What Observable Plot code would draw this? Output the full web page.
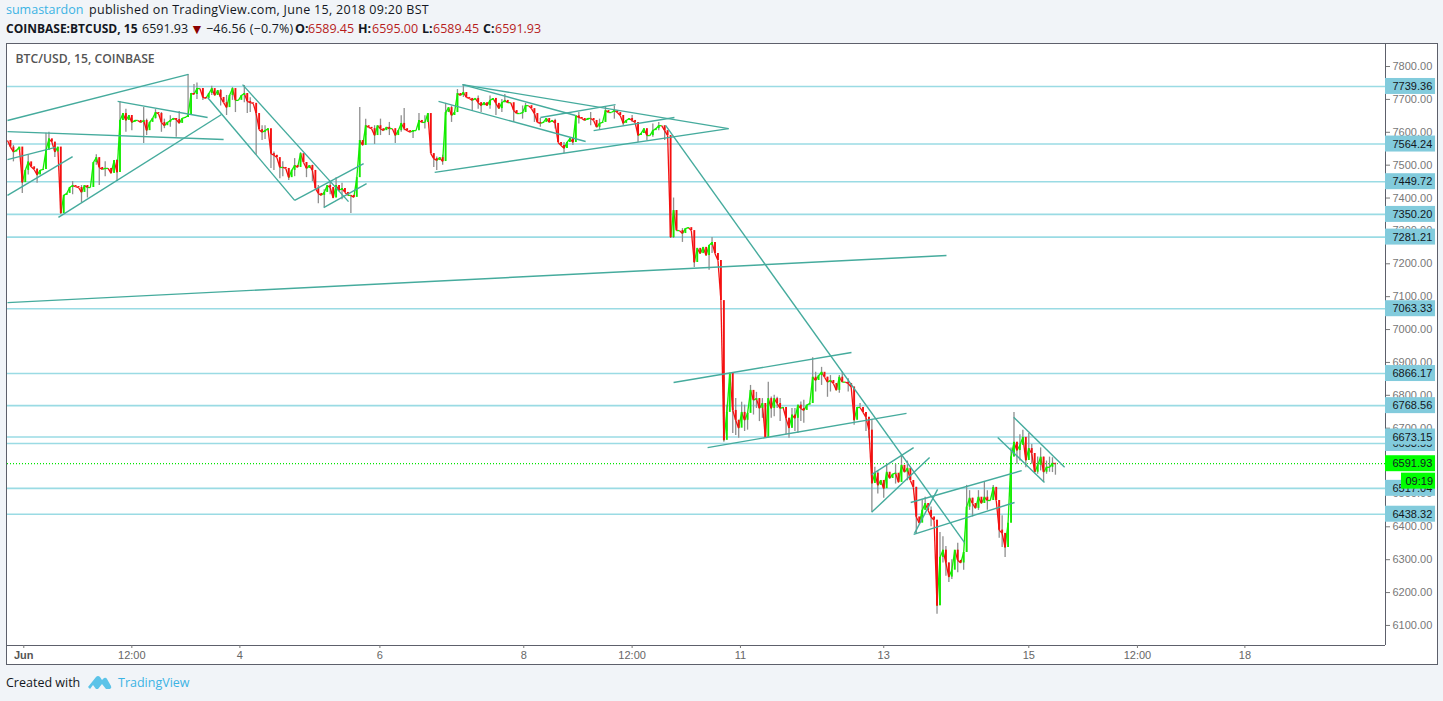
<!DOCTYPE html>
<html>
<head>
<meta charset="utf-8">
<script src="https://cdn.jsdelivr.net/npm/d3@7"></script>
<script src="https://cdn.jsdelivr.net/npm/@observablehq/plot@0.6"></script>
<style>
html,body{margin:0;padding:0;background:#f1f4f8;width:1443px;height:701px;overflow:hidden}
.h{position:absolute;left:6px;white-space:nowrap;font-family:"Open Sans",sans-serif;font-size:12.5px;color:#131722;line-height:18px}
#chart{position:absolute;left:6px;top:43px;width:1430px;height:620px;background:#fff;border:1px solid #5d606b}
#chart svg{display:block}
.r{color:#b71c1c}.b{font-weight:700}
</style>
</head>
<body>
<div class="h" style="top:1px;color:#3bb3e4">sumastardon</div>
<div class="h" style="top:1px;left:89px;letter-spacing:.3px">published on TradingView.com, June 15, 2018 09:20 BST</div>
<div class="h b" style="top:20px;font-size:12px">COINBASE:BTCUSD, 15</div>
<div class="h" style="top:20px;left:142px">6591.93</div>
<div class="h" style="top:20px;left:190px;color:#8b0000;font-size:14px">&#9660;</div>
<div class="h" style="top:20px;left:206px;letter-spacing:.2px">&#8722;46.56 (&#8722;0.7%)</div>
<div class="h b" style="top:20px;left:295px">O:</div><div class="h r" style="top:20px;left:308px">6589.45</div>
<div class="h b" style="top:20px;left:358px">H:</div><div class="h r" style="top:20px;left:372px">6595.00</div>
<div class="h b" style="top:20px;left:422px">L:</div><div class="h r" style="top:20px;left:433px">6589.45</div>
<div class="h b" style="top:20px;left:483px">C:</div><div class="h r" style="top:20px;left:495px">6591.93</div>
<div id="chart"></div>
<div class="h" style="top:674px">Created with</div>
<svg style="position:absolute;left:87px;top:674px" width="25" height="17" viewBox="0 0 25 17"><path d="M1 13 L9 3 Q11 1 13 3 L15 6 L17 4 Q19 3 20 5 L24 12 Q25 14 23 15 L19 15 L15 10 L11 15 L9 15 L6 11 L3 15 Z" fill="#5cc3e8"/></svg>
<div class="h" style="top:674px;left:118px;color:#3bb3e4">TradingView</div>
<script>
// Hourly closes (USD)
const closes = [
7575,7555,7540,7545,7555,7447,7484,7510,7495,7487,7470,7484,7487,7545,7580,7570,7540,7555,7353,7408,
7414,7432,7438,7435,7432,7417,7438,7432,7432,7508,7523,7493,7487,7490,7490,7475,7514,7478,7636,7657,
7636,7651,7630,7636,7636,7630,7636,7605,7630,7642,7660,7657,7630,7620,7630,7636,7642,7639,7627,7642,
7645,7651,7718,7715,7733,7733,7706,7703,7718,7733,7712,7727,7706,7690,7675,7712,7733,7697,7697,7712,
7718,7694,7690,7688,7657,7608,7600,7605,7611,7535,7530,7523,7493,7493,7490,7462,7484,7499,7493,7535,
7508,7490,7499,7484,7429,7414,7408,7417,7438,7432,7400,7438,7423,7429,7417,7408,7408,7402,7462,7575,
7560,7620,7615,7611,7590,7620,7611,7605,7615,7611,7611,7590,7605,7627,7611,7605,7600,7605,7605,7636,
7630,7630,7657,7535,7520,7514,7523,7511,7660,7675,7651,7660,7718,7712,7721,7706,7703,7697,7703,7690,
7681,7690,7681,7697,7703,7688,7672,7690,7697,7690,7690,7666,7657,7657,7660,7681,7681,7672,7657,7630,
7627,7630,7642,7630,7636,7627,7569,7560,7551,7569,7581,7569,7650,7645,7642,7636,7642,7642,7636,7615,
7627,7630,7666,7660,7660,7666,7660,7651,7627,7636,7642,7636,7630,7590,7596,7611,7590,7590,7605,7611,
7620,7620,7605,7590,7280,7362,7301,7301,7292,7307,7310,7301,7204,7247,7231,7250,7225,7256,7265,7231,
7210,7088,6663,6748,6867,6754,6724,6700,6748,6724,6745,6815,6785,6790,6760,6775,6670,6790,6760,6790,
6775,6760,6763,6730,6700,6740,6730,6770,6760,6754,6770,6775,6855,6845,6860,6870,6855,6840,6845,6836,
6815,6855,6840,6840,6836,6825,6724,6763,6763,6748,6733,6694,6532,6563,6526,6541,6516,6566,6547,6560,
6563,6535,6587,6566,6578,6541,6520,6430,6411,6450,6471,6450,6430,6420,6160,6307,6329,6290,6247,6268,
6329,6298,6290,6322,6460,6487,6471,6456,6490,6471,6490,6480,6480,6520,6480,6390,6380,6337,6411,6612,
6657,6632,6648,6672,6602,6638,6623,6566,6587,6612,6566,6581,6581,6593,6592
];
// Prominent grey wicks: bar number, low, high
const wickBar = [5,13,16,25,27,30,31,37,38,42,46,50,53,57,58,61,63,66,69,74,76,80,81,84,86,87,90,92,95,99,101,105,107,111,116,119,124,131,134,137,139,142,144,145,148,154,157,160,165,168,171,175,180,188,191,200,202,208,211,213,216,220,225,226,228,232,237,238,242,245,246,247,248,250,251,253,257,260,264,267,272,277,281,282,286,288,290,291,292,293,296,302,307,310,314,315,316,318,323,324,326,330,333,335,336,337,340,341,343,345,348,350,352,354];
const wickLow = [7414,7540,7523,7386,7400,7500,7438,7450,7636,7605,7566,7640,7611,7585,7627,7651,7715,7697,7712,7651,7697,7690,7657,7530,7575,7578,7484,7459,7453,7508,7462,7383,7371,7423,7353,7560,7563,7566,7605,7581,7630,7630,7493,7484,7651,7706,7663,7660,7651,7690,7630,7660,7615,7535,7560,7608,7630,7620,7630,7569,7575,7605,7277,7307,7265,7189,7180,7231,6657,6684,6678,6669,6724,6694,6785,6760,6760,6760,6669,6684,6775,6794,6806,6840,6709,6763,6690,6669,6444,6532,6487,6566,6380,6450,6134,6160,6290,6231,6268,6322,6430,6471,6480,6365,6337,6307,6612,6590,6648,6602,6560,6535,6566,6557];
const wickHigh = [7484,7597,7570,7438,7438,7532,7520,7517,7693,7642,7675,7669,7640,7642,7663,7776,7745,7733,7740,7712,7736,7742,7718,7657,7620,7620,7540,7499,7490,7538,7508,7438,7425,7462,7408,7675,7620,7605,7672,7605,7657,7657,7535,7525,7688,7745,7703,7690,7690,7715,7666,7688,7642,7569,7581,7640,7678,7636,7651,7620,7596,7630,7400,7362,7307,7247,7256,7280,6855,6760,6790,6724,6779,6745,6830,6809,6840,6794,6730,6770,6914,6855,6860,6870,6825,6775,6748,6733,6724,6581,6541,6618,6520,6490,6420,6383,6370,6290,6322,6526,6487,6535,6526,6480,6434,6380,6748,6657,6694,6684,6612,6612,6612,6593];
// Smaller wicks that thicken the trace
const minorBar = [2,7,10,14,22,33,40,47,52,55,64,72,77,82,89,93,97,103,109,113,121,126,129,133,141,147,150,152,159,163,167,174,178,185,193,197,205,218,222,243,249,252,254,255,258,259,261,263,265,266,268,269,273,275,278,284,294,297,300,304,309,312,317,319,321,325,328,331,339,342,344,346,349,351,353];
const minorLow = [7510,7470,7445,7555,7410,7465,7600,7590,7600,7615,7700,7680,7660,7660,7490,7465,7465,7450,7410,7395,7590,7590,7590,7600,7610,7500,7630,7680,7670,7670,7660,7640,7630,7610,7625,7620,7640,7585,7575,6690,6690,6740,6720,6730,6730,6735,6720,6680,6700,6690,6720,6715,6810,6830,6810,6810,6500,6530,6530,6540,6420,6400,6250,6240,6260,6450,6450,6450,6560,6600,6580,6590,6570,6560,6565];
const minorHigh = [7560,7530,7490,7600,7450,7510,7670,7640,7660,7650,7750,7730,7720,7705,7570,7510,7520,7500,7450,7445,7640,7640,7630,7650,7650,7530,7680,7730,7710,7710,7700,7680,7670,7640,7660,7660,7680,7625,7615,6770,6770,6800,6790,6790,6795,6800,6790,6750,6760,6760,6780,6785,6870,6885,6860,6850,6570,6590,6590,6600,6480,6460,6340,6300,6350,6510,6510,6510,6640,6680,6640,6650,6640,6600,6610];
// Horizontal price levels (the hidden one sits under the 6673.15 tag)
const hiddenLevel = 6653.55;
const levels = [7739.36,7564.24,7449.72,7350.20,7281.21,7063.33,6866.17,6768.56,6673.15,6517.04,6438.32];
const lastPrice = 6591.93;
const countdown = "09:19";
const yTicks = [7800,7700,7600,7500,7400,7300,7200,7100,7000,6900,6800,6700,6600,6500,6400,6300,6200,6100];
const xTickBars = [5.5,42,78.5,125.8,174.4,211,247.6,296,345,381.7,418];
const xTickLabels = ["Jun","12:00","4","6","8","12:00","11","13","15","12:00","18"];
// Drawn trend lines: start bar, start price, end bar, end price
const lineStartBar = [0,0,0,0,17.2,37.2,79.4,67.6,97,106.8,145.6,153.7,153.7,144.3,180,198,222.3,225,236.5,0,291.9,291.9,305.1,306.1,306.4,339.9,334.5];
const lineStartPrice = [7636,7602,7517,7408,7341,7694,7745,7706,7393,7371,7694,7745,7745,7478,7645,7605,7621,6839,6641,7082,6444,6559,6474,6377,6380,6733,6672];
const lineEndBar = [61.1,73,16.2,22,72.3,67.6,115.2,97,120.3,121.3,195.3,243.6,191.9,243.6,205.4,225.3,323.3,285.1,303.7,317.2,311.5,306.1,342.6,340.2,314.2,357.1,350.3];
const lineEndPrice = [7776,7578,7554,7526,7654,7645,7389,7393,7505,7444,7572,7611,7651,7611,7684,7645,6352,6930,6745,7225,6611,6641,6571,6474,6514,6581,6535];

const xMax = 465.5, tagWidth = 16.9, tagHalf = 24.3;
const bars = closes.map((c,i)=>({i,p:i?i-1:0,open:i?closes[i-1]:c,close:c}));
const up = bars.filter(d=>d.close>=d.open), down = bars.filter(d=>d.close<d.open);
const wicks = wickBar.map((b,i)=>({b,lo:wickLow[i],hi:wickHigh[i]})).concat(minorBar.map((b,i)=>({b,lo:minorLow[i],hi:minorHigh[i]})));
const segs = lineStartBar.map((s,i)=>({x1:s,y1:lineStartPrice[i],x2:lineEndBar[i],y2:lineEndPrice[i]}));
const font = '"Liberation Sans",Arial,sans-serif';
const UP = "#14ec00", DOWN = "#f41010", TAG = "#82cbdc", INK = "#131722";

const chart = Plot.plot({
  width:1430,height:620,marginTop:0,marginLeft:0,marginRight:52,marginBottom:19,
  style:{fontFamily:font,fontSize:"11px",background:"transparent",overflow:"visible"},
  x:{domain:[0,xMax],axis:null},
  y:{domain:[6039,7867],axis:null},
  marks:[
    Plot.ruleY([...levels,hiddenLevel],{x1:0,x2:xMax,stroke:"#9adbe4",strokeWidth:1.6}),
    Plot.ruleY([lastPrice],{x1:0,x2:xMax,stroke:"#00e600",strokeWidth:1.2,strokeDasharray:"1,2"}),
    Plot.ruleX(wicks,{x:"b",y1:"lo",y2:"hi",stroke:"#8f8f8f",strokeWidth:1.3}),
    Plot.link(up,{x1:"p",y1:"open",x2:"i",y2:"close",stroke:UP,strokeWidth:1.3}),
    Plot.link(down,{x1:"p",y1:"open",x2:"i",y2:"close",stroke:DOWN,strokeWidth:1.3}),
    Plot.ruleX(up,{x:"i",y1:"open",y2:"close",stroke:UP,strokeWidth:1.9}),
    Plot.ruleX(down,{x:"i",y1:"open",y2:"close",stroke:DOWN,strokeWidth:1.9}),
    Plot.link(segs,{x1:"x1",y1:"y1",x2:"x2",y2:"y2",stroke:"#45ab9d",strokeWidth:1.4}),
    Plot.ruleY([6039],{x1:0,x2:xMax,stroke:"#5d606b",strokeWidth:1}),
    Plot.ruleX([xMax],{y1:6039,y2:7867,stroke:"#5d606b",strokeWidth:1}),
    Plot.axisY(yTicks,{anchor:"right",tickSize:4,tickPadding:3,tickFormat:d=>d.toFixed(2),fill:"#777",stroke:"#777",label:null}),
    Plot.axisX(xTickBars.slice(1),{anchor:"bottom",tickSize:3,tickPadding:3,tickFormat:d=>xTickLabels[xTickBars.indexOf(d)],fill:"#666",stroke:"#777",label:null,fontSize:11}),
    Plot.axisX(xTickBars.slice(0,1),{anchor:"bottom",tickSize:3,tickPadding:3,tickFormat:d=>xTickLabels[xTickBars.indexOf(d)],fill:"#555",stroke:"#777",label:null,fontSize:11,fontWeight:"bold"}),
    Plot.rect([hiddenLevel],{x1:xMax,x2:xMax+tagWidth,y1:d=>d-tagHalf,y2:d=>d+tagHalf,fill:TAG}),
    Plot.text([hiddenLevel],{x:xMax,y:d=>d,dx:7,text:d=>d.toFixed(2),textAnchor:"start",fill:INK,fontSize:11}),
    Plot.rect(levels,{x1:xMax,x2:xMax+tagWidth,y1:d=>d-tagHalf,y2:d=>d+tagHalf,fill:TAG}),
    Plot.text(levels,{x:xMax,y:d=>d,dx:7,text:d=>d.toFixed(2),textAnchor:"start",fill:INK,fontSize:11}),
    Plot.rect([lastPrice],{x1:xMax,x2:xMax+tagWidth,y1:d=>d-tagHalf,y2:d=>d+tagHalf,fill:"#00ff00"}),
    Plot.text([lastPrice],{x:xMax,y:d=>d,dx:7,text:d=>d.toFixed(2),textAnchor:"start",fill:INK,fontSize:11}),
    Plot.rect([lastPrice-53],{x1:xMax+5.4,x2:xMax+tagWidth,y1:d=>d-tagHalf,y2:d=>d+tagHalf,fill:"#00ff00"}),
    Plot.text([lastPrice-53],{x:xMax,y:d=>d,dx:20,text:[countdown],textAnchor:"start",fill:INK,fontSize:11}),
    Plot.text(["BTC/USD, 15, COINBASE"],{frameAnchor:"top-left",dx:8,dy:10,fill:"#555",fontSize:12.2,fontWeight:600,fontFamily:'"Open Sans",sans-serif'})
  ]
});
document.getElementById("chart").appendChild(chart);
</script>
</body>
</html>
